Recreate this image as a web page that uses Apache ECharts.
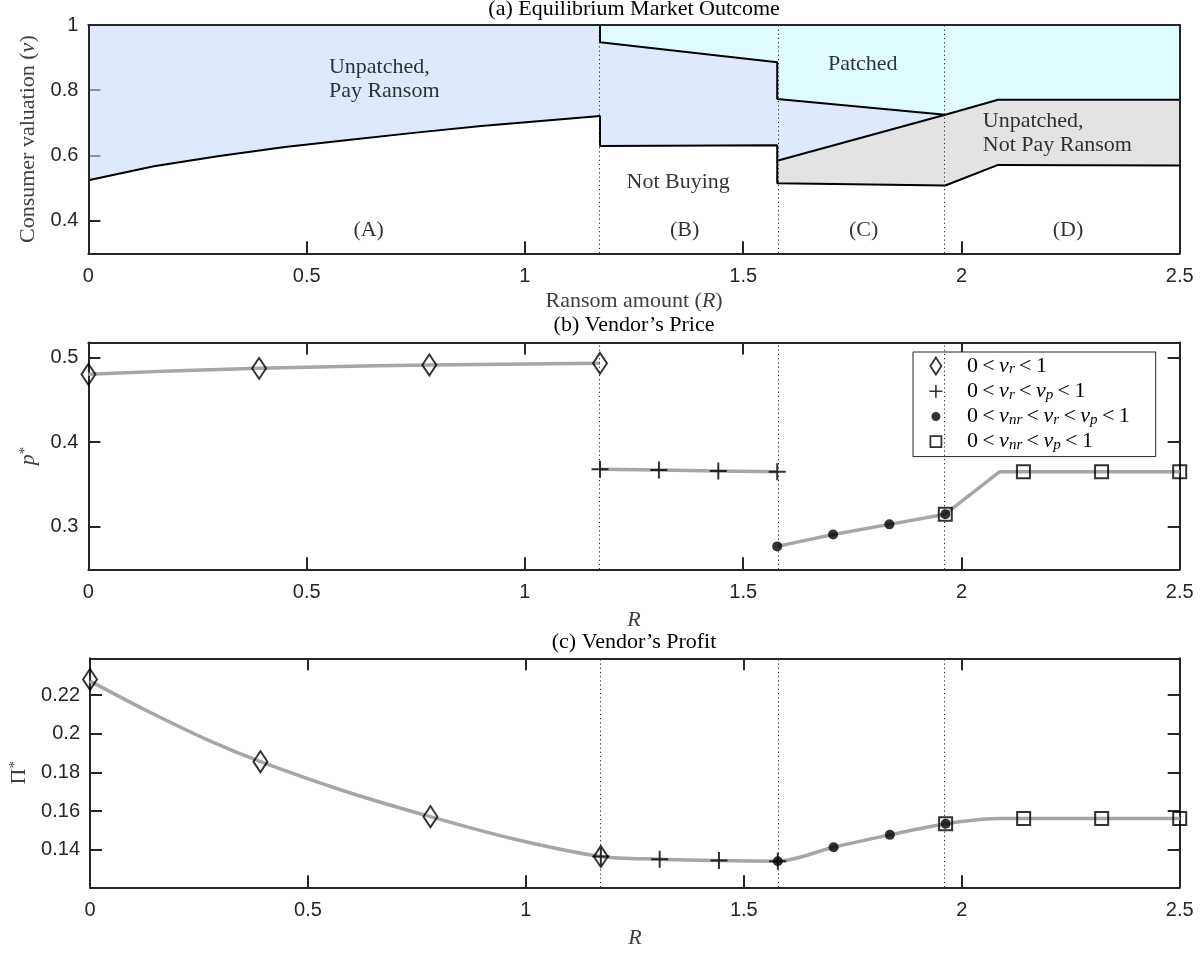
<!DOCTYPE html>
<html>
<head>
<meta charset="utf-8">
<script src="https://cdn.jsdelivr.net/npm/echarts@6/dist/echarts.min.js"></script>
<style>
  html, body { margin: 0; padding: 0; background: #fff; }
  #chart { width: 1204px; height: 953px; }
</style>
</head>
<body>
<div id="chart"></div>
<script>
// ---------------- data ----------------
// Ransom amounts where the equilibrium regime switches (A|B, B|C, C|D)
const regimeBounds = [1.172, 1.578, 1.963];

// (a) consumer-valuation thresholds
// regime A: pay-ransom threshold v_r
const vrA_R = [0, 0.15, 0.3, 0.45, 0.6, 0.75, 0.9, 1.05, 1.172];
const vrA_v = [0.524, 0.567, 0.598, 0.626, 0.648, 0.670, 0.690, 0.707, 0.721];
// regime B: v_r and patch threshold v_p
const B_R = [1.172, 1.578];
const vrB_v = [0.629, 0.631];
const vpB_v = [0.947, 0.886];
// regime C: v_nr, v_r, v_p
const C_R = [1.578, 1.963];
const vnrC_v = [0.515, 0.508];
const vrC_v = [0.584, 0.725];
const vpC_v = [0.773, 0.725];
// regime D: v_nr and v_p
const D_R = [1.963, 2.084, 2.5];
const vnrD_v = [0.508, 0.571, 0.569];
const vpD_v = [0.725, 0.771, 0.771];

// region captions and regime letters
const sideLabels = ['Unpatched,\nPay Ransom', 'Unpatched,\nNot Pay Ransom'];
const sideLabelR = [0.551, 2.049];
const sideLabelV = [0.835, 0.669];
const centerLabels = ['Patched', 'Not Buying', '(A)', '(B)', '(C)', '(D)'];
const centerLabelR = [1.774, 1.351, 0.642, 1.366, 1.776, 2.244];
const centerLabelV = [0.880, 0.519, 0.371, 0.371, 0.371, 0.371];

// (b)/(c) markers, one group per equilibrium type
const regimeNames = ['0<v_r<1', '0<v_r<v_p<1', '0<v_nr<v_r<v_p<1', '0<v_nr<v_p<1'];
const diamondR = [0, 0.391, 0.781, 1.172];
const crossR   = [1.172, 1.307, 1.443, 1.578];
const dotR     = [1.578, 1.706, 1.835, 1.963];
const squareR  = [1.963, 2.142, 2.321, 2.5];

const priceDiamond = [0.480, 0.487, 0.491, 0.493];
const priceCross   = [0.368, 0.367, 0.366, 0.365];
const priceDot     = [0.277, 0.291, 0.303, 0.315];
const priceSquare  = [0.315, 0.365, 0.365, 0.365];
const kneeR = 2.087;
const priceKnee = 0.365;

const profitDiamond = [0.2281, 0.1856, 0.1572, 0.1366];
const profitCross   = [0.1366, 0.1352, 0.1345, 0.1342];
const profitDot     = [0.1342, 0.1414, 0.1478, 0.1535];
const profitSquare  = [0.1535, 0.1563, 0.1563, 0.1563];
// profit curve
const profitLineR = [0, 0.134, 0.271, 0.391, 0.592, 0.781, 0.975, 1.172, 1.307, 1.443, 1.578, 1.706, 1.835, 1.963, 2.03, 2.087, 2.142, 2.321, 2.5];
const profitLineV = [0.2272, 0.2115, 0.1967, 0.1856, 0.1698, 0.1572, 0.1455, 0.1366, 0.1352, 0.1345, 0.1342, 0.1414, 0.1478, 0.1535, 0.1555, 0.1562, 0.1563, 0.1563, 0.1563];

// axis ticks
const xTickStep = 0.5;
const vTicks = [0.4, 0.6, 0.8, 1];
const priceTicks = [0.3, 0.4, 0.5];
const profitTicks = [0.14, 0.16, 0.18, 0.2, 0.22];

// ---------------- styling ----------------
const SERIF = "'Liberation Serif', 'Times New Roman', serif";
const SANS = "'Liberation Sans', Arial, sans-serif";
const INK = '#262626';
const NAME_INK = '#404040';
const PAY = 'rgba(200,220,250,0.6)';
const PATCHED = 'rgba(203,248,252,0.6)';
const NOPAY = 'rgba(208,208,208,0.6)';
const CURVE = '#a6a6a6';

const PLOT_LEFT = 88.4, PLOT_W = 1091.3;
const R_MAX = 2.5, V_MIN = 0.3, V_TOP = 1;

function richSet(color, size) {
  return {
    n:   { fontFamily: SERIF, fontSize: size, color: color },
    i:   { fontFamily: SERIF, fontSize: size, fontStyle: 'italic', color: color },
    sub: { fontFamily: SERIF, fontSize: Math.round(size * 0.68), fontStyle: 'italic', color: color,
           verticalAlign: 'bottom', lineHeight: 13 },
    sup: { fontFamily: SERIF, fontSize: Math.round(size * 0.7), color: color,
           verticalAlign: 'top', lineHeight: 12 }
  };
}
// '0<v_r<v_p<1' -> rich text with italic v and subscripts
function mathText(s) {
  return s.split('<').map(part => {
    const m = part.match(/^v_(\w+)$/);
    return m ? '{i|v}{sub|' + m[1] + '}' : '{n|' + part + '}';
  }).join('{n|\u2009<\u2009}');
}

const pts = (Rs, vs) => Rs.map((r, i) => [r, vs[i]]);
const A  = pts(vrA_R, vrA_v);
const Bl = pts(B_R, vrB_v),  Bu = pts(B_R, vpB_v);
const Cl = pts(C_R, vnrC_v), Cm = pts(C_R, vrC_v), Cu = pts(C_R, vpC_v);
const Dl = pts(D_R, vnrD_v), Du = pts(D_R, vpD_v);

const fillRegions = [
  { fill: PAY,     pts: [...A, [A[A.length - 1][0], V_TOP], [A[0][0], V_TOP]] },
  { fill: PAY,     pts: [...Bl, ...Bu.slice().reverse()] },
  { fill: PATCHED, pts: [...Bu, [Bu[1][0], V_TOP], [Bu[0][0], V_TOP]] },
  { fill: PAY,     pts: [Cm[0], Cm[1], Cu[0]] },
  { fill: NOPAY,   pts: [...Cl, ...Cm.slice().reverse()] },
  { fill: PATCHED, pts: [...Cu, ...Du.slice(1), [R_MAX, V_TOP], [Cu[0][0], V_TOP]] },
  { fill: NOPAY,   pts: [...Dl, ...Du.slice().reverse()] }
];
// boundary lines of panel (a)
const notBuyingEdge = [...A, ...Bl, ...Cl, ...Dl.slice(1)];
const patchedEdge = [[Bu[0][0], V_TOP], ...Bu, ...Cu, ...Du.slice(1)];
const payEdgeC = Cm;

// ---------------- axes ----------------
const tickStyle = { color: INK, width: 2 };
const lineStyleAxis = { color: INK, width: 2 };
const tickLabel = { fontFamily: SANS, fontSize: 20, color: INK };
const nameStyle = { fontFamily: SERIF, fontSize: 22, color: NAME_INK, rich: richSet(NAME_INK, 22) };

function bottomX(grid, name, nameGap) {
  return {
    type: 'value', gridIndex: grid, min: 0, max: R_MAX, interval: xTickStep, position: 'bottom',
    splitLine: { show: false },
    axisLine: { show: true, onZero: false, lineStyle: lineStyleAxis },
    axisTick: { show: true, inside: true, length: 12, lineStyle: tickStyle },
    axisLabel: Object.assign({ margin: 13, formatter: v => String(v) }, tickLabel),
    name: name, nameLocation: 'middle', nameGap: nameGap, nameTextStyle: nameStyle
  };
}
function topX(grid, ticks, z) {
  return {
    type: 'value', gridIndex: grid, min: 0, max: R_MAX, interval: xTickStep, position: 'top', z: z,
    splitLine: { show: false },
    axisLine: { show: true, onZero: false, lineStyle: lineStyleAxis },
    axisTick: { show: ticks, inside: true, length: 12, lineStyle: tickStyle },
    axisLabel: { show: false }
  };
}
function sideY(grid, pos, min, max, ticks, z) {
  return {
    type: 'value', gridIndex: grid, min: min, max: max, position: pos, z: z,
    splitLine: { show: false },
    axisLine: { show: true, onZero: false, lineStyle: lineStyleAxis },
    axisTick: { show: !!ticks, inside: true, length: 12, lineStyle: tickStyle, customValues: ticks || [] },
    axisLabel: { show: false }
  };
}
function leftY(grid, min, max, tickVals, labelVals, name, nameGap) {
  return {
    type: 'value', gridIndex: grid, min: min, max: max, position: 'left',
    splitLine: { show: false },
    axisLine: { show: true, onZero: false, lineStyle: lineStyleAxis },
    axisTick: { show: true, inside: true, length: 12, lineStyle: tickStyle, customValues: tickVals },
    axisLabel: Object.assign({ margin: 10, customValues: labelVals, formatter: v => String(v) }, tickLabel),
    name: name, nameLocation: 'middle', nameGap: nameGap, nameTextStyle: nameStyle
  };
}

const xAxis = [
  bottomX(0, '{n|Ransom amount (}{i|R}{n|)}', 37),      // 0: panel (a)
  bottomX(1, '{i|R}', 40), topX(1, true, 0),           // 1, 2: panel (b)
  bottomX(2, '{i|R}', 40), topX(2, true, 0),           // 3, 4: panel (c)
  topX(3, false, 10),                                  // 5: frame over panel (a)
  { type: 'value', gridIndex: 3, min: 0, max: R_MAX, position: 'bottom', show: false } // 6
];

const yAxis = [
  // 0: panel (a) ticks and labels, underneath the shaded regions
  leftY(0, V_MIN, V_TOP, vTicks.slice(0, 3), vTicks, '{n|Consumer valuation (}{i|v}{n|)}', 47),
  // 1, 2: panel (b)
  leftY(1, 0.25, 0.5175, priceTicks, priceTicks, '{i|p}{sup|*}', 44),
  sideY(1, 'right', 0.25, 0.5175, priceTicks, 0),
  // 3, 4: panel (c)
  leftY(2, 0.1207, 0.2390, profitTicks, profitTicks, '{n|\u03A0}{sup|*}', 60),
  sideY(2, 'right', 0.1207, 0.2390, profitTicks, 0),
  // 5, 6: frame drawn over panel (a)
  sideY(3, 'left', V_MIN, V_TOP, null, 10),
  sideY(3, 'right', V_MIN, V_TOP, null, 10)
];

// ---------------- series ----------------
const dotted = {
  silent: true, symbol: ['none', 'none'], animation: false,
  label: { show: false },
  lineStyle: { type: [1.2, 3], color: INK, width: 1 },
  data: regimeBounds.map(r => ({ xAxis: r }))
};

const series = [];

// panel (a) regions
series.push({
  type: 'custom', xAxisIndex: 0, yAxisIndex: 0, z: 2, silent: true,
  data: fillRegions.map(r => r.pts[0]),
  renderItem: (params, api) => {
    const reg = fillRegions[params.dataIndex];
    return {
      type: 'polygon',
      shape: { points: reg.pts.map(p => api.coord(p)) },
      style: { fill: reg.fill, stroke: null }
    };
  }
});
const edgeLine = (data, extra) => Object.assign({
  type: 'line', xAxisIndex: 0, yAxisIndex: 0, z: 3, data: data, symbol: 'none', silent: true,
  lineStyle: { color: '#000', width: 2 }, animation: false
}, extra || {});
series.push(edgeLine(notBuyingEdge));
series.push(edgeLine(patchedEdge));
series.push(edgeLine(payEdgeC, { markLine: dotted }));

// region captions
series.push({
  type: 'scatter', xAxisIndex: 0, yAxisIndex: 0, z: 5, symbolSize: 0, silent: true,
  data: sideLabels.map((t, i) => ({ name: t, value: [sideLabelR[i], sideLabelV[i]] })),
  label: { show: true, position: 'inside', align: 'left', formatter: p => p.name,
           fontFamily: SERIF, fontSize: 22, lineHeight: 24, color: '#000' }
});
series.push({
  type: 'scatter', xAxisIndex: 0, yAxisIndex: 0, z: 5, symbolSize: 0, silent: true,
  data: centerLabels.map((t, i) => ({ name: t, value: [centerLabelR[i], centerLabelV[i]] })),
  label: { show: true, position: 'inside', align: 'center', formatter: p => p.name,
           fontFamily: SERIF, fontSize: 22, color: '#000' }
});

// panels (b), (c): curves
const curve = (xi, yi, data, extra) => Object.assign({
  type: 'line', xAxisIndex: xi, yAxisIndex: yi, z: 2, data: data, symbol: 'none', silent: true,
  lineStyle: { color: CURVE, width: 3.5 }, animation: false
}, extra || {});
series.push(curve(1, 1, pts(diamondR, priceDiamond), { smooth: true, markLine: dotted }));
series.push(curve(1, 1, pts(crossR, priceCross)));
series.push(curve(1, 1, [...pts(dotR, priceDot), [kneeR, priceKnee], ...pts(squareR.slice(1), priceSquare.slice(1))]));
series.push(curve(3, 3, pts(profitLineR, profitLineV), { smooth: 0.3, markLine: dotted }));

// panels (b), (c): equilibrium markers
const PLUS = 'path://M-1,-8.5H1V-1H8.5V1H1V8.5H-1V1H-8.5V-1H-1Z';
const HOLLOW = { color: 'rgba(0,0,0,0)', borderColor: '#000', borderWidth: 2 };
const SOLID = { color: '#000', borderWidth: 0 };
const markerDefs = [
  { symbol: 'diamond', size: [14, 21], style: HOLLOW, R: diamondR, price: priceDiamond, profit: profitDiamond },
  { symbol: PLUS,      size: 17,       style: SOLID,  R: crossR,   price: priceCross,   profit: profitCross },
  { symbol: 'circle',  size: 10,       style: SOLID,  R: dotR,     price: priceDot,     profit: profitDot },
  { symbol: 'rect',    size: 13,       style: HOLLOW, R: squareR,  price: priceSquare,  profit: profitSquare }
];
markerDefs.forEach((m, k) => {
  [[1, 1, m.price], [3, 3, m.profit]].forEach(([xi, yi, vals]) => {
    series.push({
      type: 'scatter', name: regimeNames[k], xAxisIndex: xi, yAxisIndex: yi, z: 4,
      symbol: m.symbol, symbolSize: m.size, itemStyle: m.style,
      data: pts(m.R, vals), animation: false
    });
  });
});

// legend icons drawn inside a fixed 20x20 box so their relative sizes are kept
const legendIcons = [
  'path://M0,0M20,20M10,1.5L15.5,10L10,18.5L4.5,10Z',
  'path://M0,0M20,20M9.2,3.5H10.8V9.2H16.5V10.8H10.8V16.5H9.2V10.8H3.5V9.2H9.2Z',
  'path://M0,0M20,20M10,5.5C12.5,5.5,14.5,7.5,14.5,10C14.5,12.5,12.5,14.5,10,14.5C7.5,14.5,5.5,12.5,5.5,10C5.5,7.5,7.5,5.5,10,5.5Z',
  'path://M0,0M20,20M4.5,4.5H15.5V15.5H4.5Z'
];

const gridA = { left: PLOT_LEFT, width: PLOT_W, top: 25, height: 228.3 };

const option = {
  animation: false,
  backgroundColor: '#fff',
  title: [
    { text: '(a) Equilibrium Market Outcome', top: -2 },
    { text: '(b) Vendor\u2019s Price', top: 314 },
    { text: '(c) Vendor\u2019s Profit', top: 631 }
  ].map(t => Object.assign(t, {
    left: PLOT_LEFT + PLOT_W / 2, textAlign: 'center', padding: 0,
    textStyle: { fontFamily: SERIF, fontSize: 22, fontWeight: 'normal', color: '#000' }
  })),
  grid: [
    gridA,
    { left: PLOT_LEFT, width: PLOT_W, top: 342.5, height: 226.8 },
    { left: PLOT_LEFT, width: PLOT_W, top: 658.3, height: 229 },
    Object.assign({}, gridA)
  ],
  xAxis: xAxis,
  yAxis: yAxis,
  legend: {
    data: regimeNames.map((nm, k) => ({
      name: nm, icon: legendIcons[k],
      itemStyle: Object.assign({}, markerDefs[k].style, { borderWidth: markerDefs[k].style.borderWidth ? 1.8 : 0 })
    })),
    orient: 'vertical', left: 913, top: 352, align: 'left',
    padding: [3, 26, 4, 12], itemGap: 3.2, itemWidth: 52, itemHeight: 20,
    backgroundColor: '#fff', borderColor: INK, borderWidth: 1, borderRadius: 0,
    selectedMode: false, symbolKeepAspect: true,
    formatter: nm => mathText(nm),
    textStyle: { fontFamily: SERIF, fontSize: 22, color: '#000', lineHeight: 22, rich: richSet('#000', 22) }
  },
  series: series
};

const chart = echarts.init(document.getElementById('chart'), null, { renderer: 'canvas' });
chart.setOption(option);
</script>
</body>
</html>
